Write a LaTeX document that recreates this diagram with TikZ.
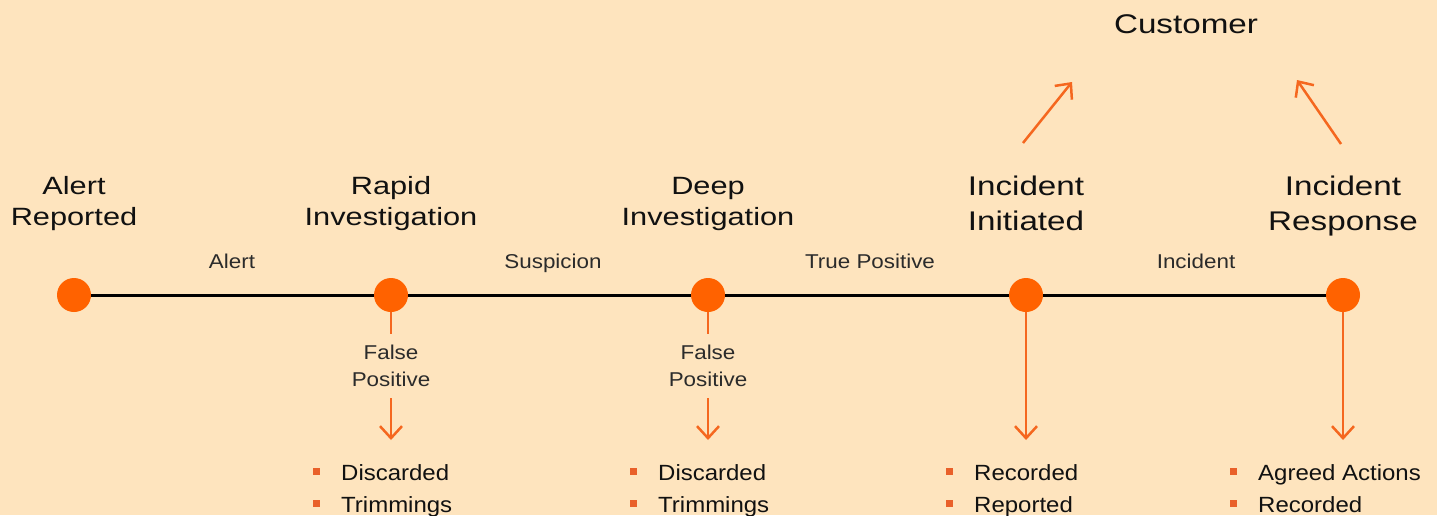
\documentclass[tikz,border=0pt]{standalone}
\usepackage{fontspec}
\setmainfont{Liberation Sans}
\newfontfamily\titlefont[FakeStretch=1.23]{Liberation Sans}
\newfontfamily\labelfont[FakeStretch=1.12]{Liberation Sans}
\newfontfamily\bulletfont[FakeStretch=1.09]{Liberation Sans}
\usetikzlibrary{arrows.meta}
\definecolor{bg}{HTML}{FEE4BE}
\definecolor{dotor}{HTML}{FF6200}
\definecolor{lineor}{HTML}{F5671F}
\definecolor{bulor}{HTML}{E9602A}
\definecolor{ink}{HTML}{111111}
\definecolor{labink}{HTML}{2B2B2B}
\begin{document}
\begin{tikzpicture}[x=1pt,y=-1pt,
  stage/.style={circle,fill=dotor,minimum size=34pt,inner sep=0},
  title/.style={align=center,inner sep=0,anchor=base,text=ink,font=\titlefont\fontsize{25}{31}\selectfont},
  bigtitle/.style={align=center,inner sep=0,anchor=base,text=ink,font=\titlefont\fontsize{27}{35}\selectfont},
  elabel/.style={inner sep=0,anchor=base,text=labink,font=\labelfont\fontsize{20}{27}\selectfont},
  fp/.style={align=center,inner sep=0,anchor=base,text=labink,font=\labelfont\fontsize{20}{27}\selectfont},
  item/.style={inner sep=0,anchor=base west,text=ink,font=\bulletfont\fontsize{22}{32}\selectfont},
  sq/.style={fill=bulor,minimum size=7pt,inner sep=0},
  flow/.style={draw=lineor,line width=2.5pt},
  arr/.style={flow,-{Straight Barb[length=12pt,width=22pt]}},
  axis/.style={draw=black,line width=3pt},
]
\fill[bg] (0,0) rectangle (1437,515);
\useasboundingbox (0,0) rectangle (1437,515);

% timeline
\node[stage] (s1) at (74,295) {};
\node[stage] (s2) at (391,295) {};
\node[stage] (s3) at (708,295) {};
\node[stage] (s4) at (1026,295) {};
\node[stage] (s5) at (1343,295) {};
\draw[axis] (s1) -- (s2);
\draw[axis] (s2) -- (s3);
\draw[axis] (s3) -- (s4);
\draw[axis] (s4) -- (s5);

% titles (anchor=base is the baseline of the last line)
\node[title] (t1) at (74,225) {Alert\\Reported};
\node[title] (t2) at (391,225) {Rapid\\Investigation};
\node[title] (t3) at (708,225) {Deep\\Investigation};
\node[bigtitle] (t4) at (1026,230) {Incident\\Initiated};
\node[bigtitle] (t5) at (1343,230) {Incident\\Response};
\node[bigtitle] (cust) at (1186,33) {Customer};

% edge labels
\node[elabel] (l1) at (232,268.5) {Alert};
\node[elabel] (l2) at (553,268.5) {Suspicion};
\node[elabel] (l3) at (870,268.5) {True Positive};
\node[elabel] (l4) at (1196,268.5) {Incident};

% false positive branches
\node[fp] (fp1) at (391,386.5) {False\\Positive};
\node[fp] (fp2) at (708,386.5) {False\\Positive};
\coordinate (fp1top) at (391,334);
\coordinate (fp2top) at (708,334);
\coordinate (fp1a) at (391,398);
\coordinate (fp2a) at (708,398);
\coordinate (e2) at (391,440);
\coordinate (e3) at (708,440);
\coordinate (e4) at (1026,440);
\coordinate (e5) at (1343,440);
\draw[flow] (s2) -- (fp1top);
\draw[flow] (s3) -- (fp2top);
\draw[arr] (fp1a) -- (e2);
\draw[arr] (fp2a) -- (e3);
\draw[arr] (s4) -- (e4);
\draw[arr] (s5) -- (e5);

% customer arrows
\coordinate (c1s) at (1023,143);
\coordinate (c1e) at (1072,82);
\coordinate (c2s) at (1341,144);
\coordinate (c2e) at (1297,80);
\draw[arr] (c1s) -- (c1e);
\draw[arr] (c2s) -- (c2e);

% bullets
\node[sq] (b21) at (316,471) {};
\node[sq] (b22) at (316,503) {};
\node[item] (i21) at (341,480) {Discarded};
\node[item] (i22) at (341,512) {Trimmings};
\node[sq] (b31) at (633,471) {};
\node[sq] (b32) at (633,503) {};
\node[item] (i31) at (658,480) {Discarded};
\node[item] (i32) at (658,512) {Trimmings};
\node[sq] (b41) at (949,471) {};
\node[sq] (b42) at (949,503) {};
\node[item] (i41) at (974,480) {Recorded};
\node[item] (i42) at (974,512) {Reported};
\node[sq] (b51) at (1233,471) {};
\node[sq] (b52) at (1233,503) {};
\node[item] (i51) at (1258,480) {Agreed Actions};
\node[item] (i52) at (1258,512) {Recorded};
\end{tikzpicture}
\end{document}
